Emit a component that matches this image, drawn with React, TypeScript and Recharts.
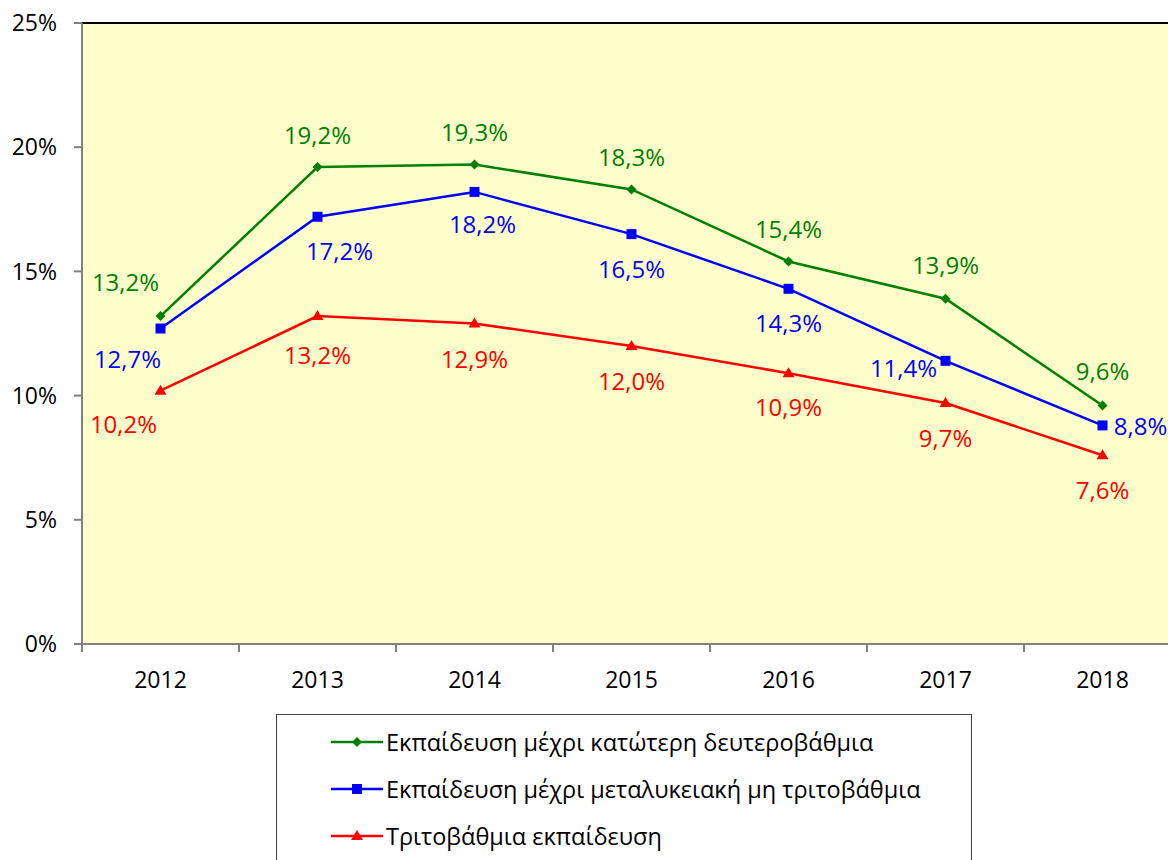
import { LineChart, Line, XAxis, YAxis, CartesianGrid, ReferenceLine, LabelList } from "recharts";

// chart data

const years = ["2012", "2013", "2014", "2015", "2016", "2017", "2018"];
const lowerSecondary = [13.2, 19.2, 19.3, 18.3, 15.4, 13.9, 9.6];
const postSecondary = [12.7, 17.2, 18.2, 16.5, 14.3, 11.4, 8.8];
const tertiary = [10.2, 13.2, 12.9, 12.0, 10.9, 9.7, 7.6];
const yTicks = [0, 5, 10, 15, 20, 25];

const seriesNames = [
  "Εκπαίδευση μέχρι κατώτερη δευτεροβάθμια",
  "Εκπαίδευση μέχρι μεταλυκειακή μη τριτοβάθμια",
  "Τριτοβάθμια εκπαίδευση",
];

const data = years.map((year, i) => ({
  year,
  green: lowerSecondary[i],
  blue: postSecondary[i],
  red: tertiary[i],
}));

// label placement (px offsets from each point)

const greenOffsets = [[-35, -35], [0, -33], [0, -33], [0, -33], [0, -33], [0, -34], [0, -35]];
const blueOffsets = [[-33, 30], [22, 34], [8, 32], [0, 34], [0, 34], [-42, 7], [38, 0]];
const redOffsets = [[-37, 33], [0, 38], [0, 35], [0, 35], [0, 33], [0, 34], [0, 34]];

const FONT = "'Open Sans', sans-serif";
const GREEN = "#008000";
const BLUE = "#0000FF";
const RED = "#FF0000";

const fmt = (v: number) => v.toFixed(1).replace(".", ",") + "%";

function makeLabel(color: string, offsets: number[][]) {
  return (props: any) => {
    const { x, y, value, index } = props;
    const [dx, dy] = offsets[index] || [0, 0];
    return (
      <text x={x + dx} y={y + dy} textAnchor="middle" dominantBaseline="central" fill={color} fontSize={24} fontFamily={FONT}>
        {fmt(value)}
      </text>
    );
  };
}

// markers

function Diamond(props: any) {
  const { cx, cy } = props;
  if (cx == null || cy == null) return null;
  return <path d={`M${cx},${cy - 5}L${cx + 5},${cy}L${cx},${cy + 5}L${cx - 5},${cy}Z`} fill={GREEN} />;
}

function Square(props: any) {
  const { cx, cy } = props;
  if (cx == null || cy == null) return null;
  return <rect x={cx - 5} y={cy - 5} width={10} height={10} fill={BLUE} />;
}

function Triangle(props: any) {
  const { cx, cy } = props;
  if (cx == null || cy == null) return null;
  return <path d={`M${cx},${cy - 6}L${cx + 6},${cy + 4}L${cx - 6},${cy + 4}Z`} fill={RED} />;
}

// x tick: label at centre, tick mark at the left category boundary

function XTick(props: any) {
  const { x, y, payload, width, visibleTicksCount, index } = props;
  const band = width && visibleTicksCount ? width / visibleTicksCount : 157;
  const left = x - band / 2;
  return (
    <g>
      <line x1={left} y1={y - 8} x2={left} y2={y} stroke="#808080" strokeWidth={2} />
      {index === visibleTicksCount - 1 && (
        <line x1={left + band} y1={y - 8} x2={left + band} y2={y} stroke="#808080" strokeWidth={2} />
      )}
      <text x={x} y={y + 27} textAnchor="middle" dominantBaseline="central" fill="#000" fontSize={23} fontFamily={FONT}>
        {payload.value}
      </text>
    </g>
  );
}

function LegendIcon({ color, kind }: { color: string; kind: string }) {
  return (
    <svg width={52} height={14} style={{ display: "block" }}>
      <line x1={0} y1={7} x2={52} y2={7} stroke={color} strokeWidth={2.5} />
      {kind === "diamond" && <path d="M26,2L31,7L26,12L21,7Z" fill={color} />}
      {kind === "square" && <rect x={21} y={2} width={10} height={10} fill={color} />}
      {kind === "triangle" && <path d="M26,1L32,11L20,11Z" fill={color} />}
    </svg>
  );
}

export default function App() {
  const legendItems = [
    { name: seriesNames[0], color: GREEN, kind: "diamond" },
    { name: seriesNames[1], color: BLUE, kind: "square" },
    { name: seriesNames[2], color: RED, kind: "triangle" },
  ];

  return (
    <div style={{ position: "absolute", left: 0, top: 0, width: 1168, height: 860, overflow: "hidden", background: "#fff" }}>
      <LineChart width={1190} height={860} data={data} margin={{ top: 23, right: 9, bottom: 156, left: 0 }}>
        <CartesianGrid fill="#FFFFCC" horizontal={false} vertical={false} />
        <XAxis
          dataKey="year"
          scale="band"
          axisLine={{ stroke: "#808080", strokeWidth: 2 }}
          tickLine={false}
          tick={<XTick />}
          height={60}
          interval={0}
        />
        <YAxis
          domain={[0, 25]}
          ticks={yTicks}
          width={82}
          tickFormatter={(v: number) => v + "%"}
          axisLine={{ stroke: "#808080", strokeWidth: 2 }}
          tickLine={{ stroke: "#808080", strokeWidth: 2 }}
          tickSize={8}
          tickMargin={17}
          tick={{ fill: "#000", fontSize: 23, fontFamily: FONT }}
        />
        <ReferenceLine y={25} stroke="#000" strokeWidth={2} />
        <Line dataKey="green" stroke={GREEN} strokeWidth={2.5} dot={<Diamond />} activeDot={false} isAnimationActive={false}>
          <LabelList dataKey="green" content={makeLabel(GREEN, greenOffsets)} />
        </Line>
        <Line dataKey="blue" stroke={BLUE} strokeWidth={2.5} dot={<Square />} activeDot={false} isAnimationActive={false}>
          <LabelList dataKey="blue" content={makeLabel(BLUE, blueOffsets)} />
        </Line>
        <Line dataKey="red" stroke={RED} strokeWidth={2.5} dot={<Triangle />} activeDot={false} isAnimationActive={false}>
          <LabelList dataKey="red" content={makeLabel(RED, redOffsets)} />
        </Line>
      </LineChart>

      {/* legend box */}
      <div
        style={{
          position: "absolute",
          left: 276,
          top: 714,
          width: 694,
          height: 160,
          border: "1px solid #404040",
          fontFamily: FONT,
          fontSize: 23.5,
          color: "#000",
        }}
      >
        {legendItems.map((item, i) => (
          <div key={item.name} style={{ position: "absolute", left: 54, top: 12 + i * 47, display: "flex", alignItems: "center", gap: 3, height: 30, whiteSpace: "nowrap" }}>
            <LegendIcon color={item.color} kind={item.kind} />
            <span>{item.name}</span>
          </div>
        ))}
      </div>
    </div>
  );
}
